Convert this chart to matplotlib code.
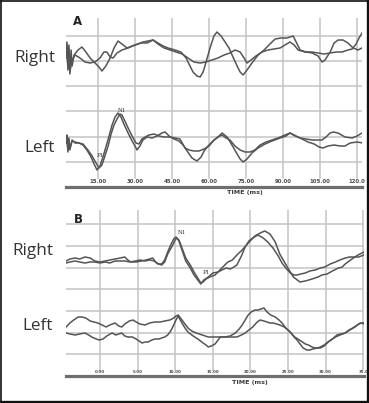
import matplotlib
matplotlib.use("Agg")
import matplotlib.pyplot as plt
from matplotlib.lines import Line2D

# ---------------- data ----------------
# Panel A (time in ms, amplitude in arbitrary units)
a_ticks = [15, 30, 45, 60, 75, 90, 105, 120]
a_tick_labels = ["15.00", "30.00", "45.00", "60.00", "75.00", "90.00", "105.00", "120.0"]

a_right1_t = [2.0, 2.4, 2.8, 3.2, 3.6, 4.1, 4.5, 5.3, 6.9, 8.5, 10.1, 11.8, 13.8, 15.4, 16.6, 18.2, 19.9, 21.5,
              23.1, 24.7, 26.8, 28.8, 31.2, 33.2, 35.3, 37.3, 39.3, 41.4, 43.4, 46.2, 48.6, 50.7, 52.3, 53.5,
              55.1, 56.4, 57.6, 58.8, 60.4, 62.0, 63.2, 64.9, 66.5, 68.1, 69.7, 71.4, 72.6, 73.8, 75.4, 77.4,
              79.9, 82.3, 84.7, 86.8, 89.2, 91.6, 94.1, 95.7, 96.9, 99.3, 101.8, 104.2, 105.8, 107.0, 109.1,
              110.7, 112.3, 114.3, 116.3, 118.4, 120.4, 122.0]
a_right1_v = [3, 19, -9, 16, -13, 11, -5, 6, 11, 14, 9, 3, -2, -6, -10, -5, 3, 13,
              20, 17, 13, 15, 17, 19, 20, 21, 18, 15, 13, 11, 9, 3, -5, -11,
              -15, -16, -11, -1, 13, 25, 29, 25, 19, 13, 4, -5, -11, -14, -9, -2,
              6, 11, 17, 22, 23, 23, 25, 17, 11, 9, 8, 5, -1, 1, 9,
              18, 21, 21, 18, 13, 11, 13]

a_right2_t = [2.0, 2.4, 2.8, 3.2, 3.6, 4.5, 5.7, 7.7, 9.7, 11.8, 13.8, 15.8, 17.4, 18.6, 19.9, 21.1, 22.7, 24.7,
              27.2, 30.0, 32.4, 34.9, 37.3, 39.3, 41.8, 44.2, 46.6, 49.1, 51.5, 53.9, 56.4, 58.8, 61.2, 63.6,
              66.1, 68.5, 70.5, 72.6, 74.2, 75.4, 77.0, 79.0, 81.5, 83.9, 86.3, 88.8, 90.8, 92.8, 94.5, 96.1,
              98.9, 101.8, 104.2, 106.6, 109.1, 111.5, 113.9, 116.3, 118.0, 119.6, 120.8, 122.0]
a_right2_v = [3, 16, -7, 13, -11, 1, 6, 3, -1, -2, -1, 3, 9, 9, 4, 3, 8, 11,
              13, 16, 18, 18, 21, 17, 13, 11, 9, 7, 3, -1, -2, -1, 1, 3,
              6, 8, 11, 9, 3, -2, 1, 5, 9, 11, 12, 13, 16, 19, 16, 11,
              9, 9, 8, 7, 8, 9, 9, 11, 12, 17, 23, 28]

a_left1_t = [2.0, 2.4, 2.8, 3.2, 3.6, 4.5, 5.7, 7.3, 8.9, 10.5, 12.2, 13.4, 14.6, 15.8, 17.0, 18.2, 19.5, 20.7,
             21.9, 23.1, 24.3, 25.5, 26.8, 28.4, 30.0, 30.8, 32.0, 33.2, 34.9, 36.9, 38.9, 40.9, 42.2, 43.8,
             45.8, 47.8, 49.5, 51.1, 53.1, 55.1, 56.8, 58.0, 59.6, 61.6, 63.2, 65.3, 67.3, 69.3, 70.9, 72.6,
             73.8, 75.4, 77.4, 79.9, 82.7, 85.5, 88.8, 91.2, 92.8, 95.3, 97.7, 100.1, 102.6, 104.6, 106.2,
             108.2, 110.7, 113.1, 115.1, 117.2, 120.0, 122.4]
a_left1_v = [-6, 2, -15, -1, -13, -3, -6, -6, -8, -13, -20, -27, -33, -29, -20, -10, 1, 12,
             20, 24, 20, 13, 6, -2, -9, -13, -9, -3, 0, -1, 1, 4, 5, 1,
             -2, -4, -8, -14, -21, -24, -20, -14, -9, -4, -1, 4, 0, -8, -15, -22,
             -25, -22, -16, -11, -7, -4, -1, 1, 4, 1, -2, -5, -7, -10, -11,
             -9, -8, -9, -9, -6, -5, -6]

a_left2_t = [2.0, 2.4, 2.8, 3.2, 3.6, 4.5, 5.7, 7.3, 8.9, 10.9, 12.6, 14.2, 15.4, 16.6, 17.8, 19.1, 20.3, 21.5,
             22.7, 23.9, 24.7, 25.9, 27.2, 28.8, 30.4, 31.6, 32.8, 34.1, 35.7, 37.7, 39.7, 41.8, 44.2, 46.2,
             48.2, 50.3, 51.9, 53.9, 55.9, 58.0, 60.0, 62.0, 63.6, 65.3, 66.9, 68.5, 70.5, 72.6, 74.6, 76.6,
             78.6, 80.7, 83.1, 85.5, 88.0, 90.8, 92.8, 94.9, 96.9, 99.3, 101.8, 104.2, 105.8, 107.4, 109.1,
             110.3, 112.3, 115.1, 118.0, 120.0, 122.0]
a_left2_v = [-6, -1, -13, -3, -11, -4, -5, -6, -7, -13, -19, -26, -31, -28, -19, -9, 3, 12,
             18, 23, 22, 16, 9, 1, -6, -7, -2, 0, 2, 3, 1, 0, 0, -1,
             -2, -11, -13, -14, -14, -12, -9, -3, 0, 2, -1, -3, -9, -13, -15, -15,
             -13, -8, -5, -3, -1, 2, 4, 1, -1, -2, -3, -3, -3, 0, 4,
             5, 4, 0, -1, 1, 4]

# Panel B
b_ticks = [0, 5, 10, 15, 20, 25, 30, 35]
b_tick_labels = ["0.00", "5.00", "10.00", "15.00", "20.00", "25.00", "30.00", "35.0"]

b_right1_t = [-4.5, -4.0, -3.3, -2.7, -2.0, -1.3, -0.7, 0.0, 0.7, 1.3, 2.0, 2.7, 3.3, 3.7, 4.1, 4.8, 5.5, 6.1,
              6.6, 7.0, 7.4, 7.8, 8.2, 8.6, 9.0, 9.6, 10.0, 10.2, 10.5, 10.9, 11.4, 12.0, 12.5, 13.0, 13.4,
              13.7, 14.1, 14.6, 15.3, 16.2, 17.0, 17.6, 18.2, 18.9, 19.7, 20.6, 21.3, 21.9, 22.6, 23.3, 23.9,
              24.9, 25.7, 26.6, 27.3, 28.2, 29.0, 29.5, 30.2, 30.9, 31.7, 32.2, 32.6, 33.5, 34.3, 35.1]
b_right1_v = [7, 9, 10, 9, 11, 10, 7, 6, 7, 8, 9, 10, 11, 8, 6, 6, 7, 8,
              9, 10, 6, 4, 3, 6, 14, 22, 28, 30, 28, 20, 10, 3, -4, -10, -15,
              -14, -11, -9, -7, 0, 6, 8, 13, 18, 25, 32, 35, 37, 34, 26, 14,
              1, -9, -14, -13, -11, -9, -7, -6, -3, 0, 1, 4, 9, 13, 16]

b_right2_t = [-4.5, -4.0, -3.3, -2.7, -2.0, -1.3, -0.7, 0.0, 0.7, 1.3, 2.0, 2.7, 3.3, 4.0, 4.7, 5.3, 6.0, 6.6,
              7.2, 7.7, 8.2, 8.6, 9.0, 9.4, 9.8, 10.1, 10.5, 10.9, 11.4, 12.0, 12.5, 13.0, 13.4, 13.8, 14.4,
              15.0, 15.7, 16.2, 16.8, 17.3, 17.8, 18.2, 18.8, 19.3, 19.8, 20.3, 21.0, 21.7, 22.3, 23.0, 23.7,
              24.2, 24.7, 25.3, 25.8, 26.2, 26.7, 27.3, 27.9, 28.6, 29.3, 29.9, 30.6, 31.3, 31.9, 32.6, 33.2,
              33.9, 34.4, 35.1]
b_right2_v = [5, 6, 7, 6, 5, 6, 6, 5, 6, 5, 7, 7, 7, 6, 7, 8, 7, 8,
              7, 4, 4, 8, 16, 23, 29, 31, 27, 18, 7, 0, -7, -12, -16, -12, -9,
              -5, -4, -2, 0, -1, 1, 3, 12, 21, 27, 30, 33, 30, 26, 20, 12,
              5, 0, -5, -7, -7, -6, -5, -3, -2, 0, 1, 4, 6, 8, 10, 11,
              11, 11, 13]

b_left1_t = [-4.5, -4.0, -3.5, -2.9, -2.4, -1.9, -1.3, -0.8, -0.3, 0.3, 0.8, 1.3, 2.0, 2.5, 2.9, 3.3, 3.9, 4.4,
             4.8, 5.3, 6.0, 6.6, 7.3, 8.0, 8.6, 9.3, 9.8, 10.1, 10.4, 10.8, 11.3, 11.7, 12.2, 12.8, 13.6,
             14.4, 15.3, 16.0, 16.6, 17.3, 18.0, 18.5, 18.9, 19.3, 19.7, 20.1, 20.6, 21.0, 21.4, 21.8, 22.2,
             22.7, 23.3, 23.8, 24.2, 24.7, 25.3, 25.8, 26.2, 26.6, 27.0, 27.5, 27.9, 28.3, 28.9, 29.3, 29.8,
             30.3, 30.9, 31.5, 32.0, 32.6, 33.1, 33.6, 34.2, 34.6, 35.1]
b_left1_v = [6, 10, 13, 16, 16, 15, 12, 11, 10, 8, 6, 8, 10, 7, 6, 9, 12, 13,
             11, 9, 8, 10, 11, 11, 12, 13, 15, 17, 18, 14, 9, 5, 2, 0, -2,
             -4, -4, -4, -4, -3, 0, 4, 8, 13, 18, 21, 23, 23, 24, 25, 21,
             18, 16, 13, 10, 5, 1, -4, -7, -11, -15, -17, -17, -16, -15, -14, -12,
             -9, -6, -2, -1, 0, 3, 5, 8, 10, 10]

b_left2_t = [-4.5, -4.0, -3.3, -2.7, -2.0, -1.5, -1.1, -0.5, -0.1, 0.4, 0.9, 1.6, 2.1, 2.5, 2.9, 3.3, 3.7, 4.3,
             4.8, 5.2, 5.6, 6.0, 6.4, 6.9, 7.3, 7.8, 8.2, 8.6, 9.0, 9.4, 9.8, 10.1, 10.4, 10.6, 10.9, 11.3,
             11.7, 12.2, 12.6, 13.2, 13.7, 14.1, 14.4, 14.8, 15.3, 16.0, 16.6, 17.3, 18.2, 18.8, 19.3, 19.8,
             20.3, 20.9, 21.3, 21.8, 22.2, 22.6, 23.0, 23.5, 23.9, 24.5, 25.0, 25.5, 25.9, 26.5, 26.9, 27.3,
             27.7, 28.2, 28.6, 29.3, 29.8, 30.2, 30.7, 31.3, 31.9, 32.6, 33.2, 33.9, 34.4, 34.8, 35.1]
b_left2_v = [0, -1, -2, -1, 0, -2, -4, -6, -7, -6, -3, 0, -2, -1, 0, -3, -4, -4,
             -6, -8, -10, -9, -9, -7, -6, -6, -5, -4, -2, 2, 8, 13, 17, 14, 10, 5,
             1, -2, -4, -7, -10, -12, -14, -13, -11, -4, -4, -4, -4, -2, 0, 3,
             6, 11, 13, 12, 11, 10, 10, 9, 8, 6, 3, -1, -4, -7, -9, -11,
             -12, -14, -15, -15, -13, -10, -7, -4, -2, 0, 3, 6, 9, 10, 9]

channel_labels = ["Right", "Left"]

# ---------------- layout helpers ----------------
W, H = 369, 403
fig = plt.figure(figsize=(W / 100, H / 100), dpi=100)
fig.patch.set_facecolor("white")


def fx(px):
    return px / W


def fy(py):
    return 1 - py / H


TRACE = "#555555"
GRID = "#c4c4c4"


def make_panel(left, top, right, bottom, xlim, ylim, hgrid, vticks, vlabels, vgrid_bottom,
               tick_fs, tick_pad, xlabel_pos):
    ax = fig.add_axes([fx(left), fy(bottom), (right - left) / W, (bottom - top) / H])
    ax.set_xlim(*xlim)
    ax.set_ylim(*ylim)
    ax.set_facecolor("none")
    for y in hgrid:
        ax.axhline(y, color=GRID, lw=1.1, zorder=1)
    for x in vticks:
        ax.axvline(x, ymin=vgrid_bottom, ymax=1, color=GRID, lw=1.1, zorder=1)
    for s in ["top", "left", "right"]:
        ax.spines[s].set_visible(False)
    ax.spines["bottom"].set_color("#6e6e6e")
    ax.spines["bottom"].set_linewidth(2.3)
    ax.set_yticks([])
    ax.set_xticks(vticks, vlabels)
    ax.tick_params(axis="x", length=0, pad=tick_pad, labelsize=tick_fs, labelcolor="#4a4a4a")
    for lab in ax.get_xticklabels():
        lab.set_fontweight("bold")
    ax.set_xlabel("TIME (ms)", fontsize=4.6, fontweight="bold", color="#3a3a3a")
    ax.xaxis.set_label_coords(*xlabel_pos)
    return ax


# ---------------- Panel A ----------------
axA = make_panel(66, 18, 362, 187, (2.03, 122.0), (-25, 144), [0, 25, 51, 76, 101, 126],
                 a_ticks, a_tick_labels, 0.053, 3.9, -5.6, (0.605, -0.02))
offA_right, offA_left = 101, 25
for t, v in [(a_right1_t, a_right1_v), (a_right2_t, a_right2_v)]:
    axA.plot(t, [val + offA_right for val in v], color=TRACE, lw=1.1, zorder=3)
for t, v in [(a_left1_t, a_left1_v), (a_left2_t, a_left2_v)]:
    axA.plot(t, [val + offA_left for val in v], color=TRACE, lw=1.1, zorder=3)
axA.text(24.6, 51, "N1", fontsize=4, family="DejaVu Serif", color="#333", ha="center", va="center", zorder=4)
axA.text(15.9, 7, "P1", fontsize=4, family="DejaVu Serif", color="#333", ha="center", va="center", zorder=4)

# ---------------- Panel B ----------------
axB = make_panel(66, 210, 364, 376, (-4.52, 35.1), (0, 166),
                 [21.7, 43.3, 65, 86.7, 108.3, 130, 151.7],
                 b_ticks, b_tick_labels, 0.036, 2.9, -4.4, (0.617, -0.025))
offB_right, offB_left = 108, 43
for t, v in [(b_right1_t, b_right1_v), (b_right2_t, b_right2_v)]:
    axB.plot(t, [val + offB_right for val in v], color=TRACE, lw=1.1, zorder=3)
for t, v in [(b_left1_t, b_left1_v), (b_left2_t, b_left2_v)]:
    axB.plot(t, [val + offB_left for val in v], color=TRACE, lw=1.1, zorder=3)
axB.text(10.9, 144, "N1", fontsize=4, family="DejaVu Serif", color="#333", ha="center", va="center", zorder=4)
axB.text(14.1, 103, "P1", fontsize=4, family="DejaVu Serif", color="#333", ha="center", va="center", zorder=4)

# ---------------- labels ----------------
lab_kw = dict(fontsize=12.3, family="Open Sans", color="#333333", ha="right", va="baseline")
fig.text(fx(55), fy(62), channel_labels[0], **lab_kw)
fig.text(fx(55), fy(152), channel_labels[1], **lab_kw)
fig.text(fx(53), fy(255), channel_labels[0], **lab_kw)
fig.text(fx(53), fy(330), channel_labels[1], **lab_kw)
fig.text(fx(73), fy(25), "A", fontsize=8.5, fontweight="bold", color="#222", ha="left", va="baseline")
fig.text(fx(74), fy(223), "B", fontsize=8.5, fontweight="bold", color="#222", ha="left", va="baseline")

# ---------------- frame ----------------
for (x0, y0, x1, y1, lw) in [(0.7, 0.7, 367.5, 0.7, 1.2), (0.7, 0.7, 0.7, 401.5, 1.2),
                            (367.5, 0, 367.5, 403, 2.4), (0, 401.5, 369, 401.5, 2.4)]:
    fig.add_artist(Line2D([fx(x0), fx(x1)], [fy(y0), fy(y1)], color="#111", lw=lw))

fig.savefig("out.png", dpi=100, facecolor="white")
